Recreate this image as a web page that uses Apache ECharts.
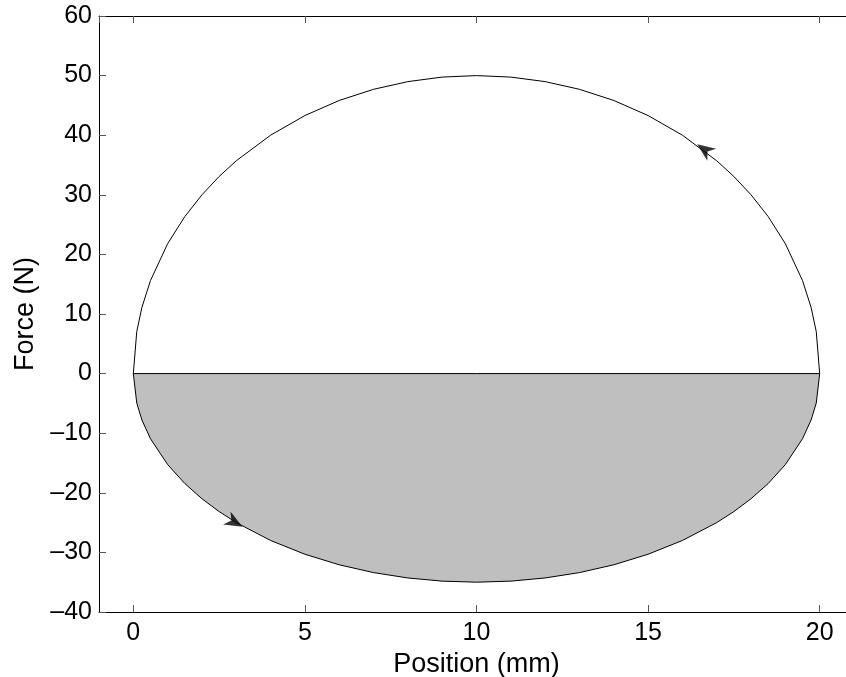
<!DOCTYPE html>
<html>
<head>
<meta charset="utf-8">
<script src="https://cdn.jsdelivr.net/npm/echarts@6/dist/echarts.min.js"></script>
<style>
  html, body { margin: 0; padding: 0; background: #fff; }
  #chart { width: 846px; height: 677px; }
</style>
</head>
<body>
<div id="chart"></div>
<script>
// position (mm) sampled along the loop
var posX = [0, 0.1, 0.25, 0.5, 1, 1.5, 2, 2.5, 3, 4, 5, 6, 7, 8, 9, 10,
            11, 12, 13, 14, 15, 16, 17, 17.5, 18, 18.5, 19, 19.5, 19.75, 19.9, 20];
// upper branch (return stroke) force in N
var forceUp = [0, 7.05, 11.11, 15.61, 21.79, 26.34, 30, 33.07, 35.71, 40, 43.3, 45.83, 47.7, 48.99, 49.75, 50,
               49.75, 48.99, 47.7, 45.83, 43.3, 40, 35.71, 33.07, 30, 26.34, 21.79, 15.61, 11.11, 7.05, 0];
// lower branch (forward stroke) force in N
var forceDown = [0, -4.94, -7.78, -10.93, -15.26, -18.44, -21, -23.15, -25, -28, -30.31, -32.08, -33.39, -34.29, -34.82, -35,
                 -34.82, -34.29, -33.39, -32.08, -30.31, -28, -25, -23.15, -21, -18.44, -15.26, -10.93, -7.78, -4.94, 0];
// zero line
var baseX = [0, 20];
var baseY = [0, 0];
// direction arrows [x, y]
var arrowPts = [[16.43, 38.5], [3.18, -25.7]];

var xTicks = [0, 5, 10, 15, 20];

function pairs(xs, ys) {
  var out = [];
  for (var i = 0; i < xs.length; i++) out.push([xs[i], ys[i]]);
  return out;
}

var myChart = echarts.init(document.getElementById('chart'));
var font = 'Liberation Sans, Arial, Helvetica, sans-serif';
var arrowPath = 'path://M0,0 L7,17 L0,12 L-7,17 Z';

function minusFmt(v) {
  return v < 0 ? '\u2013' + Math.abs(v) : String(v);
}

var option = {
  animation: false,
  backgroundColor: '#fff',
  // plot box runs a little past the right edge of the picture, like the original
  grid: { left: 99, top: 16, right: -8, bottom: 65, containLabel: false, outerBoundsMode: 'none' },
  xAxis: [
    {
      type: 'value', min: -1, max: 21,
      name: 'Position (mm)', nameLocation: 'middle', nameGap: 35,
      nameTextStyle: { color: '#000', fontSize: 27, fontFamily: font },
      axisLine: { onZero: false, lineStyle: { color: '#000', width: 1 } },
      axisTick: { inside: true, length: 7, lineStyle: { color: '#555' } },
      axisLabel: {
        color: '#000', fontSize: 25, fontFamily: font, margin: 9,
        showMinLabel: false, showMaxLabel: false,
        formatter: function (v) { return xTicks.indexOf(v) >= 0 ? String(v) : ''; }
      },
      splitLine: { show: false }
    },
    {
      type: 'value', min: -1, max: 21, position: 'top',
      axisLine: { onZero: false, lineStyle: { color: '#000', width: 1 } },
      axisTick: { inside: true, length: 7, lineStyle: { color: '#555' } },
      axisLabel: { show: false },
      splitLine: { show: false }
    }
  ],
  yAxis: [
    {
      type: 'value', min: -40, max: 60, interval: 10,
      name: 'Force (N)', nameLocation: 'middle', nameGap: 60, nameRotate: 90,
      nameTextStyle: { color: '#000', fontSize: 27, fontFamily: font },
      axisLine: { onZero: false, lineStyle: { color: '#000', width: 1 } },
      axisTick: { inside: true, length: 7, lineStyle: { color: '#555' } },
      axisLabel: { color: '#000', fontSize: 25, fontFamily: font, margin: 7, formatter: minusFmt },
      splitLine: { show: false }
    }
  ],
  series: [
    {
      type: 'line', name: 'forward',
      data: pairs(posX, forceDown),
      showSymbol: false,
      lineStyle: { color: '#000', width: 1 },
      areaStyle: { color: '#bfbfbf', opacity: 1 },
      z: 2
    },
    {
      type: 'line', name: 'return',
      data: pairs(posX, forceUp),
      showSymbol: false,
      lineStyle: { color: '#000', width: 1 },
      z: 3
    },
    {
      type: 'line', name: 'base',
      data: pairs(baseX, baseY),
      showSymbol: false,
      lineStyle: { color: '#000', width: 1 },
      z: 3
    },
    {
      type: 'scatter', name: 'arrows',
      symbol: arrowPath,
      symbolSize: [15, 18],
      itemStyle: { color: '#000' },
      data: [
        { value: arrowPts[0], symbolRotate: 54, symbolOffset: [7.3, 5.3] },
        { value: arrowPts[1], symbolRotate: -119.5, symbolOffset: [-7.8, -4.4] }
      ],
      z: 4
    }
  ]
};

option && myChart.setOption(option);
</script>
</body>
</html>
